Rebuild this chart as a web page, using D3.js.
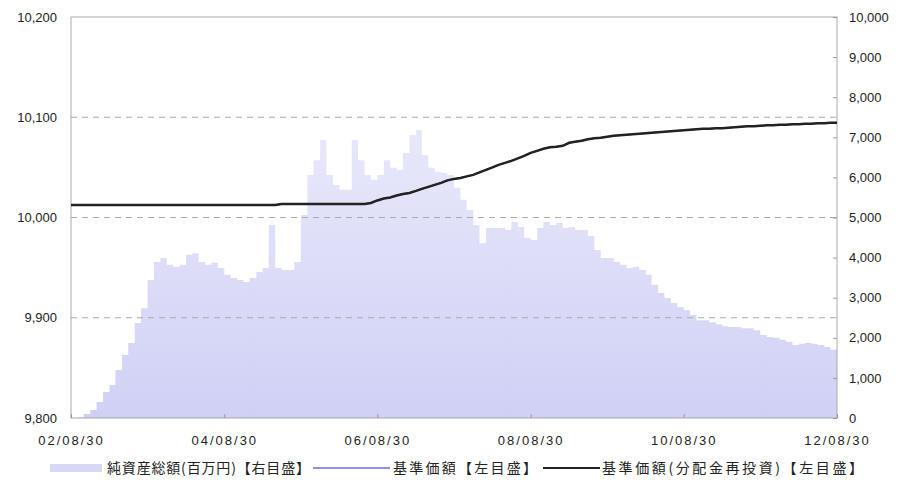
<!DOCTYPE html>
<html>
<head>
<meta charset="utf-8">
<style>
  body { margin: 0; background: #fff; }
  svg { display: block; font-family: 'DejaVu Sans', sans-serif; }
  .axis text { font-size: 13px; fill: #222; }
  .axis line { stroke: #999; }
  .axis path { display: none; }
  .legend text { font-family: 'Noto Sans CJK JP', sans-serif; font-size: 14px; fill: #222; }
</style>
</head>
<body>
<svg width="898" height="484"></svg>

<script src="https://d3js.org/d3.v7.min.js"></script>
<script>
// monthly points, 2002/08/30 .. 2012/08/30
let startDate = new Date(2002, 7, 30)
let endDate = new Date(2012, 7, 30)

// 純資産総額 (百万円), right axis
let netAssets = [
  0, 20, 100, 200, 400, 650, 820, 1200, 1570, 1870, 2370, 2740,
  3440, 3890, 3990, 3820, 3770, 3820, 4070, 4110, 3890, 3820, 3870, 3740,
  3570, 3490, 3440, 3390, 3490, 3640, 3740, 4810, 3740, 3690, 3690, 3890,
  5060, 6060, 6430, 6930, 6060, 5810, 5690, 5690, 6930, 6430, 6060, 5940,
  6060, 6430, 6240, 6190, 6610, 7060, 7180, 6560, 6240, 6140, 6110, 6060,
  5740, 5440, 5190, 4810, 4360, 4740, 4740, 4740, 4690, 4890, 4760, 4490,
  4440, 4740, 4890, 4810, 4860, 4740, 4760, 4690, 4690, 4540, 4190, 3990,
  3990, 3890, 3820, 3740, 3770, 3690, 3570, 3320, 3120, 2990, 2870, 2770,
  2690, 2570, 2440, 2440, 2390, 2340, 2290, 2270, 2270, 2240, 2240, 2190,
  2070, 2020, 2000, 1950, 1900, 1820, 1850, 1870, 1850, 1820, 1770, 1700,
  1700
]

// 基準価額(分配金再投資), left axis
let navReinvest = [
  10012.5, 10012.5, 10012.5, 10012.5, 10012.5, 10012.5, 10012.5, 10012.5, 10012.5, 10012.5, 10012.5, 10012.5,
  10012.5, 10012.5, 10012.5, 10012.5, 10012.5, 10012.5, 10012.5, 10012.5, 10012.5, 10012.5, 10012.5, 10012.5,
  10012.5, 10012.5, 10012.5, 10012.5, 10012.5, 10012.5, 10012.5, 10012.5, 10012.5, 10013.5, 10013.5, 10013.5,
  10013.5, 10013.5, 10013.5, 10013.5, 10013.5, 10013.5, 10013.5, 10013.5, 10013.5, 10013.5, 10013.5, 10014.5,
  10017, 10019, 10020, 10022, 10023.5, 10024.5, 10026.5, 10028.5, 10030.5, 10032.5, 10034.5, 10037,
  10038.5, 10039.5, 10041, 10042.5, 10045, 10047.5, 10050, 10052.5, 10054.5, 10056.5, 10059, 10061.5,
  10064.5, 10066.5, 10068.5, 10070, 10070.5, 10071.5, 10074.5, 10075.5, 10076.5, 10078, 10079, 10079.5,
  10080.5, 10081.5, 10082, 10082.5, 10083, 10083.5, 10084, 10084.5, 10085, 10085.5, 10086, 10086.5,
  10087, 10087.5, 10088, 10088.5, 10088.5, 10089, 10089, 10089.5, 10090, 10090.5, 10091, 10091,
  10091.5, 10092, 10092, 10092.5, 10092.5, 10093, 10093, 10093.5, 10093.5, 10094, 10094, 10094.5,
  10094.5
]

// 基準価額 - no distributions, so it sits under the reinvested line
let navBase = navReinvest.slice()

let leftTicks = [9800, 9900, 10000, 10100, 10200]
let gridTicks = [9900, 10000, 10100]
let rightTicks = [0, 1000, 2000, 3000, 4000, 5000, 6000, 7000, 8000, 9000, 10000]
let dateTicks = ["2002-08-30", "2004-08-30", "2006-08-30", "2008-08-30", "2010-08-30", "2012-08-30"]

let legendLabels = ["純資産総額(百万円)【右目盛】", "基準価額【左目盛】", "基準価額(分配金再投資)【左目盛】"]

let plotL = 71, plotR = 837, plotT = 17, plotB = 418

let svg = d3.select("svg")

let dates = netAssets.map((d, i) => d3.timeMonth.offset(startDate, i))
let rows = dates.map((d, i) => ({ date: d, assets: netAssets[i], nav: navBase[i], navR: navReinvest[i] }))

let x = d3.scaleTime().domain([startDate, endDate]).range([plotL, plotR])
let yL = d3.scaleLinear().domain([9800, 10200]).range([plotB, plotT])
let yR = d3.scaleLinear().domain([0, 10000]).range([plotB, plotT])

// gradient for the area
let grad = svg.append("defs").append("linearGradient")
  .attr("id", "areaGrad").attr("x1", 0).attr("y1", 0).attr("x2", 0).attr("y2", 1)
grad.append("stop").attr("offset", "0%").attr("stop-color", "#e8e8fb")
grad.append("stop").attr("offset", "100%").attr("stop-color", "#d0d0f5")

// area
let area = d3.area()
  .curve(d3.curveStepAfter)
  .x(d => x(d.date))
  .y0(yR(0))
  .y1(d => yR(d.assets))

svg.append("path")
  .datum(rows)
  .attr("d", area)
  .attr("fill", "url(#areaGrad)")

// dashed grid
svg.append("g")
  .selectAll("line")
  .data(gridTicks)
  .join("line")
  .attr("x1", plotL).attr("x2", plotR)
  .attr("y1", d => yL(d)).attr("y2", d => yL(d))
  .attr("stroke", "#aaa")
  .attr("stroke-dasharray", "6,5")

// frame
svg.append("rect")
  .attr("x", plotL).attr("y", plotT)
  .attr("width", plotR - plotL).attr("height", plotB - plotT)
  .attr("fill", "none")
  .attr("stroke", "#aaa")

// lines
let line = d3.line().x(d => x(d.date))

svg.append("path")
  .datum(rows)
  .attr("d", line.y(d => yL(d.nav)))
  .attr("fill", "none")
  .attr("stroke", "#6a6ae0")
  .attr("stroke-width", 1.5)

svg.append("path")
  .datum(rows)
  .attr("d", line.y(d => yL(d.navR)))
  .attr("fill", "none")
  .attr("stroke", "#222")
  .attr("stroke-width", 2.5)

// axes
svg.append("g")
  .attr("class", "axis")
  .attr("transform", "translate(" + plotL + ",0)")
  .call(d3.axisLeft(yL).tickValues(leftTicks).tickSize(0).tickPadding(14).tickFormat(d3.format(",")))

svg.append("g")
  .attr("class", "axis")
  .attr("transform", "translate(" + plotR + ",0)")
  .call(d3.axisRight(yR).tickValues(rightTicks).tickSize(-4).tickPadding(12).tickFormat(d3.format(",")))

let xAxis = svg.append("g")
  .attr("class", "axis")
  .attr("transform", "translate(0," + plotB + ")")
  .call(d3.axisBottom(x)
    .tickValues(dateTicks.map(d => d3.timeParse("%Y-%m-%d")(d)))
    .tickSize(-4).tickPadding(18)
    .tickFormat(d3.timeFormat("%y/%m/%d")))
xAxis.selectAll("text").style("letter-spacing", "2px")

// legend
let legend = svg.append("g").attr("class", "legend")

legend.append("rect")
  .attr("x", 50).attr("y", 464).attr("width", 52).attr("height", 8)
  .attr("fill", "#d8d8f6")

legend.append("line")
  .attr("x1", 313).attr("x2", 390).attr("y1", 468).attr("y2", 468)
  .attr("stroke", "#6a6ae0").attr("stroke-width", 1.5)

legend.append("line")
  .attr("x1", 543).attr("x2", 600).attr("y1", 468).attr("y2", 468)
  .attr("stroke", "#222").attr("stroke-width", 2)

let legendX = [107, 393, 602]
let legendW = [203, 144, 261]

legend.selectAll("text")
  .data(legendLabels)
  .join("text")
  .attr("x", (d, i) => legendX[i])
  .attr("y", 473)
  .attr("textLength", (d, i) => legendW[i])
  .attr("lengthAdjust", "spacing")
  .text(d => d)
</script>
</body>
</html>
